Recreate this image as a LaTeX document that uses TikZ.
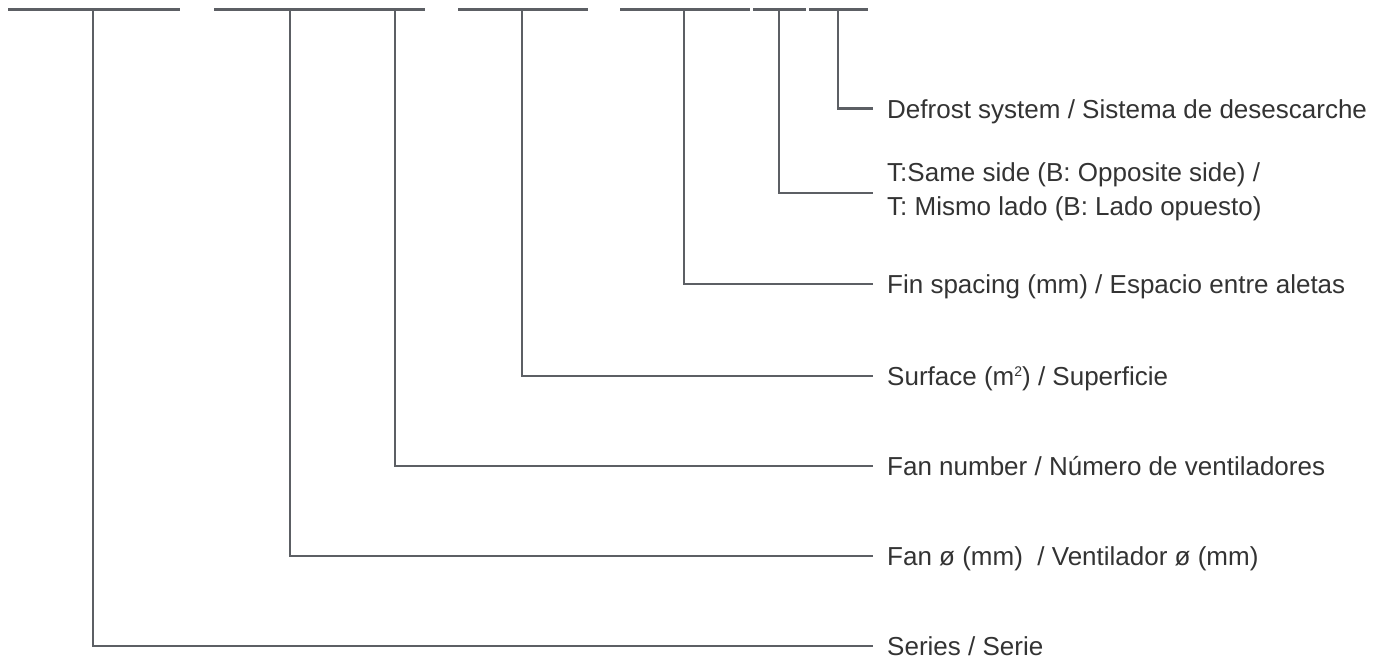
\documentclass[tikz,border=0pt]{standalone}
\usepackage{fontspec}
\setmainfont{Liberation Sans}
\definecolor{linegray}{RGB}{92,95,100}
\definecolor{textgray}{RGB}{51,51,51}
\newcommand{\supsmall}[1]{\raisebox{0.33em}{\fontsize{14}{14}\selectfont #1}}
\begin{document}
\begin{tikzpicture}[x=1pt,y=-1pt,
  bar/.style={draw=linegray, line width=2.6pt},
  conn/.style={draw=linegray, line width=2.6pt},
  lbl/.style={anchor=base west, inner sep=0pt, text=textgray,
    font=\fontsize{26}{34}\selectfont, align=left}]
\useasboundingbox (0,0) rectangle (1378,658);
% top code bars
\draw[bar] (8,9.5) -- (180,9.5);
\draw[bar] (214,9.5) -- (425,9.5);
\draw[bar] (458,9.5) -- (588,9.5);
\draw[bar] (620,9.5) -- (750,9.5);
\draw[bar] (753,9.5) -- (806,9.5);
\draw[bar] (809,9.5) -- (868,9.5);
% connector starts
\coordinate (s1) at (93,9.5);
\coordinate (s2) at (290,9.5);
\coordinate (s3) at (395,9.5);
\coordinate (s4) at (522,9.5);
\coordinate (s5) at (684,9.5);
\coordinate (s6) at (779,9.5);
\coordinate (s7) at (838,9.5);
% connector ends
\coordinate (e1) at (873,646);
\coordinate (e2) at (873,556);
\coordinate (e3) at (873,466);
\coordinate (e4) at (873,376);
\coordinate (e5) at (873,284);
\coordinate (e6) at (873,193);
\coordinate (e7) at (873,108.5);
% labels
\node[lbl] (l1) at (887,655) {Series / Serie};
\node[lbl] (l2) at (887,565) {Fan ø (mm)\ \ / Ventilador ø (mm)};
\node[lbl] (l3) at (887,475) {Fan number / Número de ventiladores};
\node[lbl] (l4) at (887,385) {Surface (m\supsmall{2}) / Superficie};
\node[lbl] (l5) at (887,293) {Fin spacing (mm) / Espacio entre aletas};
\node[lbl] (l6) at (887,215) {T:Same side (B: Opposite side) /\\T: Mismo lado (B: Lado opuesto)};
\node[lbl] (l7) at (887,118) {Defrost system / Sistema de desescarche};
% connectors
\draw[conn] (s1) |- (e1);
\draw[conn] (s2) |- (e2);
\draw[conn] (s3) |- (e3);
\draw[conn] (s4) |- (e4);
\draw[conn] (s5) |- (e5);
\draw[conn] (s6) |- (e6);
\draw[conn] (s7) |- (e7);
\end{tikzpicture}
\end{document}
